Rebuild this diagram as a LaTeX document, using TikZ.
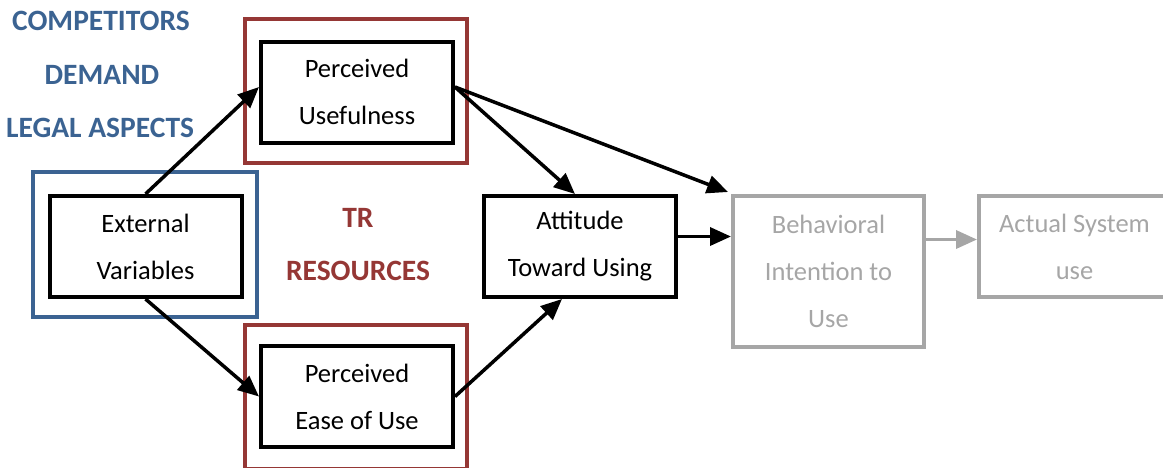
\documentclass[tikz,border=0pt]{standalone}
\usepackage{fontspec}
\setmainfont{Carlito}
\usetikzlibrary{arrows.meta,calc}
\definecolor{lblue}{HTML}{3B6392}
\definecolor{lred}{HTML}{953735}
\definecolor{lgrey}{HTML}{A6A6A6}
\tikzset{
  box/.style={draw=black,line width=4pt,minimum width=192pt,minimum height=101pt,inner sep=0pt,align=center,font=\fontsize{26.5}{47}\selectfont},
  greybox/.style={box,draw=lgrey,text=lgrey},
  frame/.style={draw,line width=4pt,inner sep=0pt},
  lab/.style={font=\fontsize{29.5}{32}\selectfont\bfseries,inner sep=0pt},
  arr/.style={line width=3.5pt,-{Triangle[length=21pt,width=18pt]}},
  garr/.style={arr,draw=lgrey,-{Triangle[length=21pt,width=18pt,fill=lgrey]}}
}
\begin{document}
\begin{tikzpicture}[x=1pt,y=-1pt]
\useasboundingbox (0,0) rectangle (1163,467);
\clip (0,0) rectangle (1163,467);
% labels
\node[lab,text=lblue] (comp) at (101,21) {COMPETITORS};
\node[lab,text=lblue] (dem) at (102,75) {DEMAND};
\node[lab,text=lblue] (legal) at (100,128) {LEGAL ASPECTS};
\node[lab,text=lred] (tr) at (358,218) {TR};
\node[lab,text=lred] (res) at (358,271) {RESOURCES};
% frames
\node[frame,draw=lred,minimum width=222pt,minimum height=144pt] (redtop) at (356,91) {};
\node[frame,draw=lred,minimum width=222pt,minimum height=144pt] (redbot) at (356,397) {};
\node[frame,draw=lblue,minimum width=224pt,minimum height=145pt] (bluefr) at (145,244.5) {};
% boxes
\node[box] (ext) at (145.5,246.5) {External\\Variables};
\node[box] (pu) at (357,92) {Perceived\\Usefulness};
\node[box] (pe) at (357,396.5) {Perceived\\Ease of Use};
\node[box] (att) at (580,246.5) {Attitude\\Toward Using};
\node[greybox,minimum width=191pt,minimum height=151pt] (beh) at (828.5,271.5) {Behavioral\\Intention to\\Use};
\node[greybox,minimum width=191pt] (act) at (1074.5,246.5) {Actual System\\use};
% arrows
\draw[arr] (ext.north) -- ([yshift=5pt]pu.west);
\draw[arr] (ext.south) -- (pe.west);
\draw[arr] ([yshift=5pt]pu.east) -- ([xshift=-5pt]att.north);
\draw[arr] ([yshift=5pt]pu.east) -- ([xshift=-3pt,yshift=2pt]beh.north west);
\draw[arr] ([yshift=10pt]att.east) -- ([yshift=10pt]att.east -| beh.west);
\draw[arr] (pe.east) -- ([xshift=-18pt]att.south);
\draw[garr] ([yshift=7pt]act.west -| beh.east) -- ([yshift=7pt]act.west);
\end{tikzpicture}
\end{document}
